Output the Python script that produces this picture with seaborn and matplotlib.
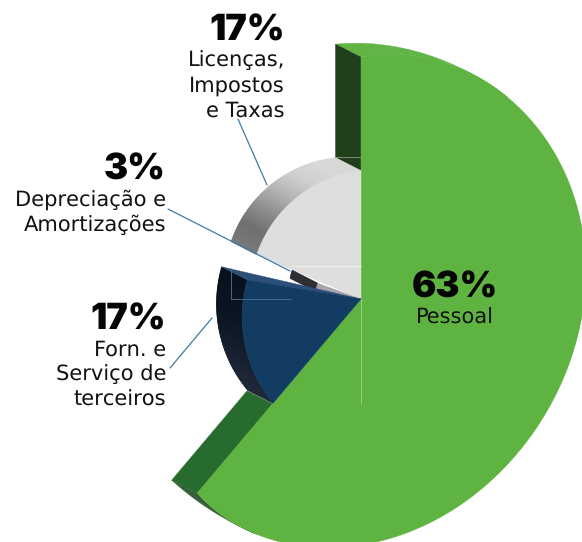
import numpy as np
import matplotlib
matplotlib.use("Agg")
import matplotlib.pyplot as plt
from matplotlib.patches import Polygon
import seaborn as sns

categories = ["Pessoal", "Forn. e\nServiço de\nterceiros", "Depreciação e\nAmortizações", "Licenças,\nImpostos\ne Taxas"]
shares = [63, 17, 3, 17]
share_labels = ["63%", "17%", "3%", "17%"]

sns.set_theme(style="white")
plt.rcParams["font.family"] = ["Inter", "DejaVu Sans"]
plt.rcParams["text.hinting"] = "no_hinting"
plt.rcParams["text.hinting_factor"] = 1

fig = plt.figure(figsize=(5.82, 5.42), dpi=100, facecolor="white")
ax = fig.add_axes([0, 0, 1, 1])
ax.set_xlim(0, 582)
ax.set_ylim(542, 0)
ax.axis("off")

APEX = np.array([361.0, 299.0])
DEPTH = np.array([-25.5, -13.0])
# perspective outline of each slice
BLUE_C, BLUE_R = (377, 317), 135
SMALL_C, SMALL_R = (361, 299), 46
GREY_C, GREY_R = (375, 295), 125
# green rim: distance from the apex read around the outline
RIM_ANGLE = [0, 13.6, 21.3, 34.6, 60, 93, 112, 118, 141, 157, 176, 198, 220]
RIM_DIST = [242, 249, 251, 250, 239, 221, 218, 217, 223, 229, 243.5, 256, 254]
rim_fit = np.polyfit(np.array(RIM_ANGLE) / 220.0, RIM_DIST, 6)


def warp(t):
    """Perspective skew of the pie angle (degrees clockwise from top)."""
    return t + np.interp(t, [0, 300, 360], [0, -8.8, 0])


def directions(t0, t1, n):
    th = np.radians(np.linspace(t0, t1, n))
    return np.column_stack([np.sin(th), -np.cos(th)])


def arc(t0, t1, centre, r, n=80):
    d = directions(t0, t1, n)
    f = APEX - np.asarray(centre, float)
    b = (d * f).sum(1)
    c = (f * f).sum() - r * r
    s = -b + np.sqrt(b * b - c)
    return APEX + d * s[:, None]


def green_arc(t0, t1, n=120):
    d = directions(t0, t1, n)
    s = np.polyval(rim_fit, np.linspace(t0, t1, n) / 220.0)
    return APEX + d * s[:, None]


def poly(pts, color, z, lw=0.3):
    ax.add_patch(Polygon(pts, closed=True, facecolor=color, edgecolor=color, lw=lw, zorder=z))


def band(pts, colors, z):
    n = len(pts) - 1
    for i in range(n):
        col = colors[int(i / n * len(colors))]
        poly([pts[i], pts[i + 1], pts[i + 1] + DEPTH, pts[i] + DEPTH], col, z, lw=0.5)


def taper(pts, start, end):
    """Sliver between an arc and its depth-shifted copy, fading along the arc."""
    f = np.linspace(start, end, len(pts))[:, None]
    return np.vstack([pts, (pts + DEPTH * f)[::-1]])


edges = np.cumsum([0] + shares) * 3.6
g0, g1 = warp(edges[0]), warp(edges[1])
b1 = warp(edges[2])
s1 = warp(edges[3]) + 3
gy1 = warp(edges[4])

# green
green = green_arc(g0, g1, 240)
poly(taper(green_arc(g0, g0 + 36), 1, 0), "#61b547", 1)
poly(taper(green_arc(g1 - 16, g1), 0, 1), "#37603a", 1)
top_in = arc(0, 0, GREY_C, GREY_R, 2)[0]
poly([green[0], green[0] + DEPTH, top_in + DEPTH, top_in], "#223f1c", 2)
poly([APEX + (green[-1] - APEX) * 0.54, APEX + (green[-1] - APEX) * 0.54 + DEPTH, green[-1] + DEPTH, green[-1]], "#286b2e", 2)
poly(np.vstack([APEX, green]), "#5fb441", 3)

# grey
grey = arc(s1, gy1, GREY_C, GREY_R)
band(grey, sns.blend_palette(["#787878", "#6e6e6e", "#8f8f8f", "#b5b5b5", "#cfcfcf", "#d8d8d8", "#d8d8d8"], 80), 4)
poly(np.vstack([APEX, grey]), "#dedede", 5)

# small slice
small = arc(warp(edges[2]), warp(edges[3]), SMALL_C, SMALL_R, 10)
band(small, ["#2e2c33"], 6)
poly(np.vstack([APEX, small]), "#a9a4ae", 7)

# blue
blue = arc(g1, b1, BLUE_C, BLUE_R)
band(blue, sns.blend_palette(["#1f2a3a", "#141d2c", "#08111e", "#050d1a"], 80), 8)
poly([blue[-1] + DEPTH, blue[-1], APEX], "#2b4f78", 9)
poly(np.vstack([APEX, blue]), "#133c63", 10)

# faint seams in the source image
seam_kw = dict(lw=0.7, zorder=11, solid_capstyle="butt")
ax.plot([361, 361], [299, 404], color="#9ccb8b", **seam_kw)
ax.plot([291, 361], [266, 266], color="#efefef", **seam_kw)
ax.plot([231, 231, 291], [268, 299, 299], color="#47698c", **seam_kw)
ax.plot([335, 361], [157, 157], color="#7d8f78", **seam_kw)

# leader lines
lead_kw = dict(color="#3f7ba3", lw=0.9, zorder=12)
ax.plot([238, 267], [119, 185], **lead_kw)
ax.plot([168, 290], [209, 271], **lead_kw)
ax.plot([212, 170], [318, 368], **lead_kw)

# labels
pct_fs, txt_fs = 26, 15.2
ink = "#050505"


def label(x, y, pct, lines, ha):
    ax.text(x, y, pct, ha=ha, va="baseline", fontsize=pct_fs, fontweight="black", color=ink, zorder=13)
    for i, s in enumerate(lines.split("\n")):
        ax.text(x, y + 26 + 25 * i, s, ha=ha, va="baseline", fontsize=txt_fs, family="DejaVu Sans", color="#111111", zorder=13)


label(285, 41, share_labels[3], categories[3], "right")
label(166, 180, share_labels[2], categories[2], "right")
label(166, 330, share_labels[1], categories[1], "right")
label(455, 298, share_labels[0], categories[0], "center")

fig.savefig("out.png", dpi=100, facecolor="white")
